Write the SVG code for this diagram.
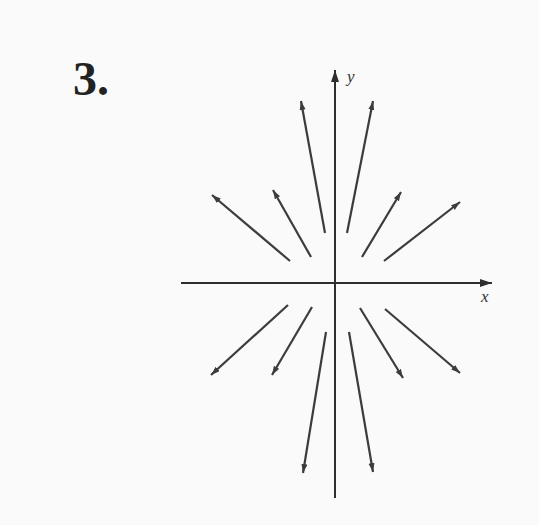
<svg xmlns="http://www.w3.org/2000/svg" width="539" height="525" viewBox="0 0 539 525">
<style>
.ax{stroke:#2e2e2e;stroke-width:2;fill:none}
.v{stroke:#3c3c3c;stroke-width:2.2;fill:none;marker-end:url(#ah)}
.lbl{font-family:"Liberation Serif","DejaVu Serif",serif;font-style:italic;fill:#333;font-size:17px}
.num{font-family:"Liberation Serif","DejaVu Serif",serif;font-weight:bold;fill:#222;font-size:48px}
</style>
<defs>
<marker id="ah" markerUnits="userSpaceOnUse" markerWidth="12" markerHeight="10" refX="9" refY="3" orient="auto">
<path d="M0,0 L9,3 L0,6 Z" fill="#3c3c3c"/>
</marker>
<marker id="axh" markerUnits="userSpaceOnUse" markerWidth="14" markerHeight="10" refX="12" refY="4" orient="auto">
<path d="M0,0 L12,4 L0,8 Z" fill="#2e2e2e"/>
</marker>
</defs>
<rect width="539" height="525" fill="#fafafa"/>
<g id="label3"><text class="num" x="73" y="95">3.</text></g>
<g id="axes">
<line class="ax" x1="181" y1="283" x2="492" y2="283" marker-end="url(#axh)"/>
<line class="ax" x1="335" y1="498" x2="335" y2="70" marker-end="url(#axh)"/>
<text class="lbl" x="481" y="302">x</text>
<text class="lbl" x="347" y="82">y</text>
</g>
<g id="connectors">
<line class="v" x1="325" y1="233" x2="301" y2="101"/>
<line class="v" x1="347" y1="233" x2="373" y2="101"/>
<line class="v" x1="311" y1="257" x2="273" y2="190"/>
<line class="v" x1="362" y1="257" x2="401" y2="192"/>
<line class="v" x1="290" y1="261" x2="212" y2="195"/>
<line class="v" x1="384" y1="261" x2="460" y2="202"/>
<line class="v" x1="288" y1="305" x2="211" y2="375"/>
<line class="v" x1="385" y1="309" x2="460" y2="373"/>
<line class="v" x1="312" y1="307" x2="272" y2="375"/>
<line class="v" x1="360" y1="308" x2="403" y2="378"/>
<line class="v" x1="326" y1="332" x2="303" y2="473"/>
<line class="v" x1="349" y1="332" x2="373" y2="472"/>
</g>
</svg>
